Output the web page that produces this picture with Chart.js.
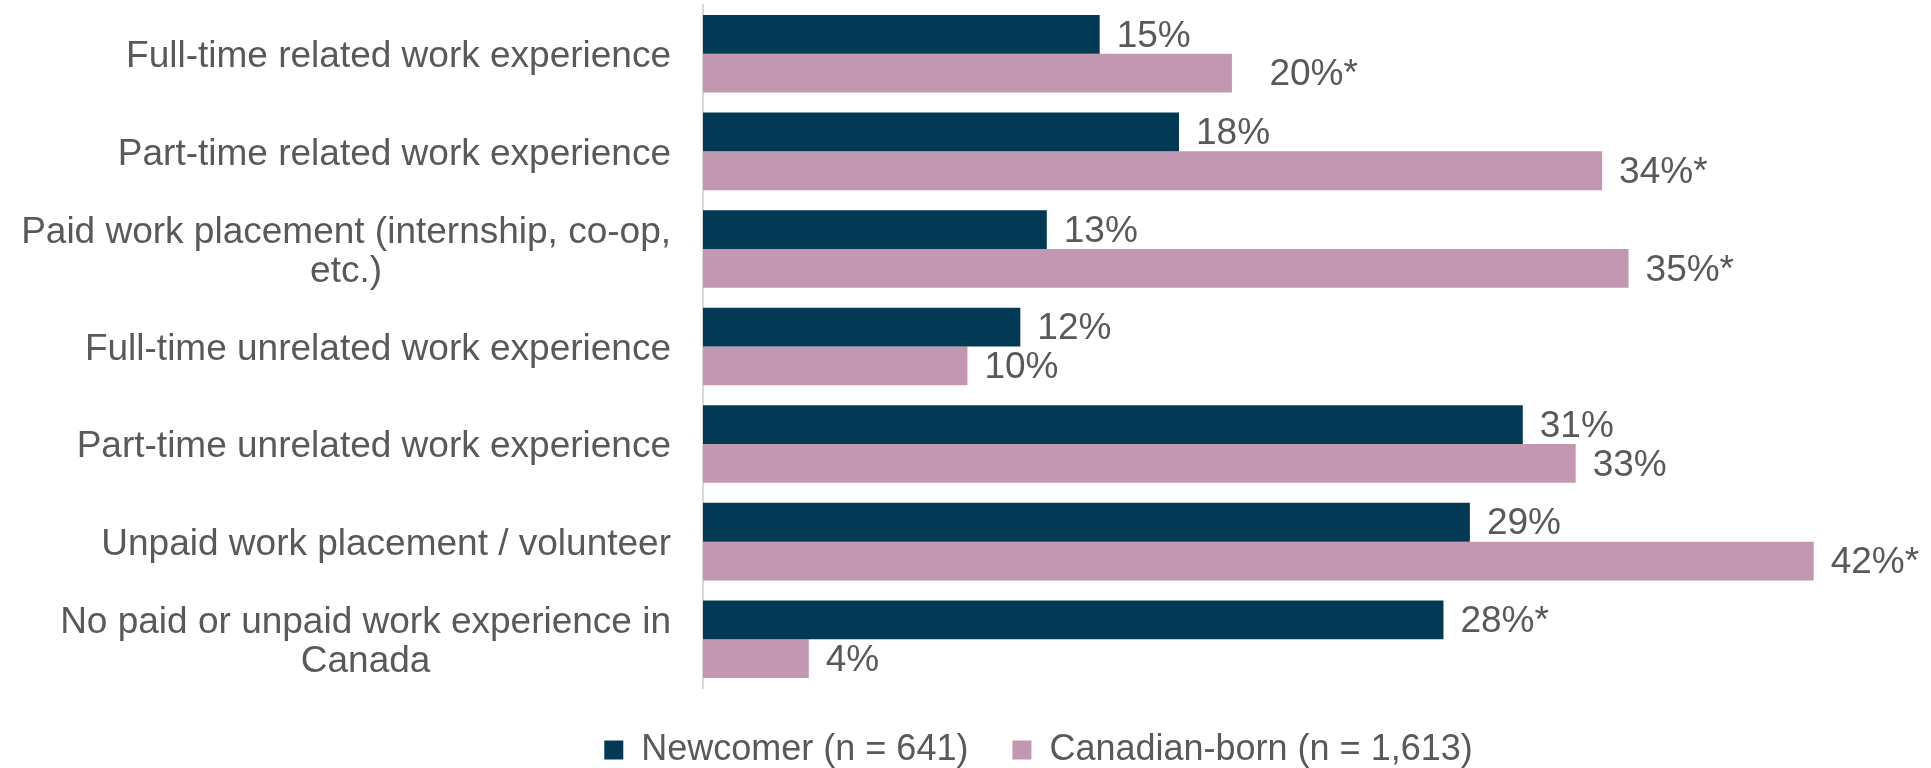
<!DOCTYPE html>
<html lang="en">
<head>
  <meta charset="UTF-8">
  <title>Work experience in Canada - Newcomer vs Canadian-born</title>
  <script src="https://cdn.jsdelivr.net/npm/chart.js"></script>
  <style>
    html, body {
      margin: 0;
      padding: 0;
      background: #ffffff;
    }
    .chart-container {
      position: relative;
      width: 1931px;
      height: 768px;
    }
  </style>
</head>
<body>
  <div class="chart-container">
    <canvas id="mainChart"></canvas>
  </div>

  <script>
    // Categories (multi-line ones split into arrays)
    const categories = [
      'Full-time related work experience',
      'Part-time related work experience',
      ['Paid work placement (internship, co-op,', 'etc.)'],
      'Full-time unrelated work experience',
      'Part-time unrelated work experience',
      'Unpaid work placement / volunteer',
      ['No paid or unpaid work experience in', 'Canada']
    ];

    const newcomerValues = [15, 18, 13, 12, 31, 29, 28];
    const canadianValues = [20, 34, 35, 10, 33, 42, 4];

    // printed labels (* = significant difference)
    const newcomerLabels = ['15%', '18%', '13%', '12%', '31%', '29%', '28%*'];
    const canadianLabels = ['  20%*', '34%*', '35%*', '10%', '33%', '42%*', '4%'];

    const seriesNames = ['Newcomer (n = 641)', 'Canadian-born (n = 1,613)'];

    const FONT = "Arial, 'Liberation Sans', sans-serif";
    const TEXT_COLOR = '#595959';

    Chart.defaults.font.family = FONT;
    Chart.defaults.color = TEXT_COLOR;

    // draws the category labels (right-aligned block, lines centred) and bar value labels
    const labelPlugin = {
      id: 'labelPlugin',
      afterDatasetsDraw(chart) {
        const ctx = chart.ctx;
        const yScale = chart.scales.y;
        const right = chart.chartArea.left - 32;
        ctx.save();
        ctx.font = '37px ' + FONT;
        ctx.fillStyle = TEXT_COLOR;
        ctx.textBaseline = 'middle';
        ctx.textAlign = 'center';
        const lineH = 39;
        categories.forEach((cat, i) => {
          const lines = Array.isArray(cat) ? cat : [cat];
          const w = Math.max(...lines.map(l => ctx.measureText(l).width));
          const cx = right - w / 2;
          const cy = yScale.getPixelForValue(i) + 3;
          const startY = cy - (lines.length - 1) * lineH / 2;
          lines.forEach((l, k) => ctx.fillText(l, cx, startY + k * lineH));
        });

        ctx.textAlign = 'left';
        const allLabels = [newcomerLabels, canadianLabels];
        chart.data.datasets.forEach((ds, di) => {
          const meta = chart.getDatasetMeta(di);
          meta.data.forEach((bar, i) => {
            ctx.fillText(allLabels[di][i], bar.x + 17, bar.y + 2);
          });
        });
        ctx.restore();
      }
    };

    const ctx = document.getElementById('mainChart').getContext('2d');
    new Chart(ctx, {
      type: 'bar',
      data: {
        labels: categories,
        datasets: [
          {
            label: seriesNames[0],
            data: newcomerValues,
            backgroundColor: '#023A56',
            borderWidth: 0
          },
          {
            label: seriesNames[1],
            data: canadianValues,
            backgroundColor: '#C297B1',
            borderWidth: 0
          }
        ]
      },
      options: {
        indexAxis: 'y',
        responsive: true,
        maintainAspectRatio: false,
        animation: false,
        layout: { padding: { left: 184, right: 38, top: 5, bottom: -10 } },
        datasets: {
          bar: { categoryPercentage: 0.795, barPercentage: 1.0 }
        },
        scales: {
          x: {
            display: false,
            min: 0,
            max: 45
          },
          y: {
            grid: { display: false },
            border: { display: true, color: '#D9D9D9', width: 2 },
            ticks: { display: false },
            afterFit(scale) { scale.width = 519; }
          }
        },
        plugins: {
          legend: {
            position: 'bottom',
            labels: {
              boxWidth: 19,
              boxHeight: 19,
              padding: 44,
              color: TEXT_COLOR,
              font: { size: 36 }
            }
          },
          tooltip: { enabled: false }
        }
      },
      plugins: [labelPlugin]
    });
  </script>
</body>
</html>
